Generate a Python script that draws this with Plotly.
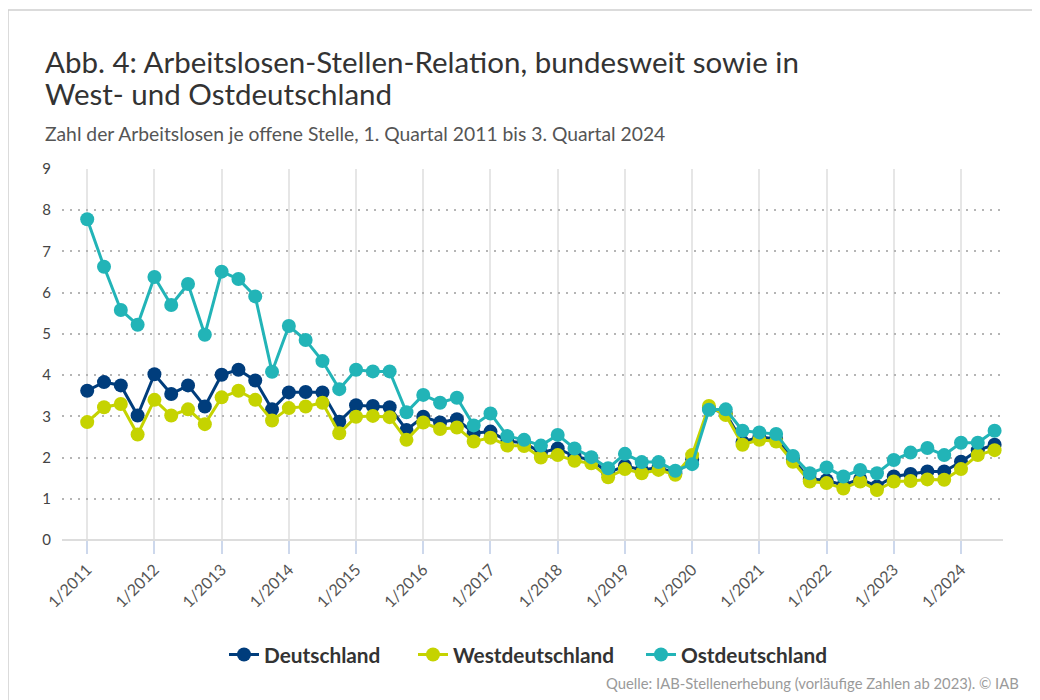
import plotly.graph_objects as go

years = list(range(2011, 2025))
quarters = [f"{q}/{y}" for y in years for q in range(1, 5)][:55]
tick_labels = [f"1/{y}" for y in years]

deutschland = [3.62, 3.83, 3.75, 3.02,
               4.02, 3.54, 3.75, 3.24,
               4.01, 4.13, 3.87, 3.17,
               3.58, 3.59, 3.58, 2.87,
               3.27, 3.25, 3.22, 2.67,
               2.99, 2.85, 2.93, 2.59,
               2.63, 2.40, 2.36, 2.12,
               2.22, 2.03, 1.94, 1.63,
               1.80, 1.70, 1.76, 1.62,
               1.95, 3.20, 3.07, 2.38,
               2.50, 2.45, 1.95, 1.48,
               1.45, 1.33, 1.48, 1.30,
               1.54, 1.60, 1.66, 1.66,
               1.90, 2.18, 2.31]

westdeutschland = [2.86, 3.22, 3.30, 2.56,
                   3.40, 3.02, 3.17, 2.81,
                   3.46, 3.62, 3.40, 2.90,
                   3.20, 3.24, 3.33, 2.59,
                   2.99, 3.01, 2.98, 2.43,
                   2.85, 2.69, 2.73, 2.39,
                   2.48, 2.29, 2.28, 2.00,
                   2.06, 1.92, 1.86, 1.52,
                   1.72, 1.62, 1.70, 1.58,
                   2.06, 3.25, 3.03, 2.31,
                   2.43, 2.39, 1.90, 1.42,
                   1.38, 1.25, 1.42, 1.21,
                   1.42, 1.43, 1.47, 1.46,
                   1.72, 2.06, 2.18]

ostdeutschland = [7.78, 6.63, 5.58, 5.22,
                  6.38, 5.70, 6.21, 4.98,
                  6.51, 6.33, 5.91, 4.08,
                  5.19, 4.85, 4.34, 3.66,
                  4.13, 4.09, 4.09, 3.10,
                  3.52, 3.33, 3.45, 2.78,
                  3.07, 2.52, 2.43, 2.29,
                  2.55, 2.22, 2.01, 1.74,
                  2.09, 1.89, 1.89, 1.68,
                  1.84, 3.16, 3.17, 2.65,
                  2.61, 2.57, 2.04, 1.62,
                  1.76, 1.54, 1.70, 1.62,
                  1.94, 2.12, 2.23, 2.06,
                  2.36, 2.36, 2.65]

series = [("Deutschland", deutschland, "#003D7C", "legend"),
          ("Westdeutschland", westdeutschland, "#C5D300", "legend2"),
          ("Ostdeutschland", ostdeutschland, "#22B4B7", "legend3")]

FONT = "Lato"
x_idx = list(range(len(quarters)))

fig = go.Figure()
for name, vals, col, leg in series:
    fig.add_trace(go.Scatter(
        x=x_idx, y=vals, name=name, mode="lines+markers",
        line=dict(color=col, width=3),
        marker=dict(color=col, size=14),
        customdata=quarters, legend=leg,
        hovertemplate="%{customdata}: %{y}<extra>" + name + "</extra>",
        cliponaxis=False,
    ))

# page body has an 8px offset; work in screen coordinates and convert
OFF = 8
W, H = 1040 - OFF, 700 - OFF
SL, SR, ST, SB = 62, 1003, 169, 540   # plot area in screen px
L, R, T, B = SL - OFF, W - (SR - OFF), ST - OFF, H - (SB - OFF)
pw, ph = W - L - R, H - T - B

def px(xs):
    return (xs - OFF - L) / pw

def py(ys):
    return (H - B - (ys - OFF)) / ph

leg_common = dict(orientation="h", yanchor="middle", xanchor="left",
                  font=dict(family=FONT, size=20.8, color="#333", weight="bold"),
                  bgcolor="rgba(0,0,0,0)", itemwidth=30)

fig.update_layout(
    width=W, height=H,
    margin=dict(l=L, r=R, t=T, b=B),
    paper_bgcolor="white", plot_bgcolor="white",
    font=dict(family=FONT, color="#444"),
    showlegend=True,
    legend=dict(x=px(224), y=py(655), **leg_common),
    legend2=dict(x=px(413), y=py(655), **leg_common),
    legend3=dict(x=px(641), y=py(655), **leg_common),
    xaxis=dict(range=[-1.5, 54.5], tickmode="array",
               tickvals=[i * 4 for i in range(len(tick_labels))], ticktext=tick_labels,
               tickangle=-45, tickfont=dict(size=16, color="#555"),
               showgrid=True, gridcolor="#e6e6e6", gridwidth=2,
               ticks="outside", ticklen=13, tickcolor="#cdd8ec", tickwidth=2,
               showline=False, zeroline=False),
    yaxis=dict(range=[0, 9], dtick=1, tickfont=dict(size=15, color="#444"),
               showgrid=True, gridcolor="#b5b5b5", griddash="2px,6px", gridwidth=1.5,
               zeroline=True, zerolinecolor="#dddddd", zerolinewidth=2,
               ticklabelstandoff=10, showline=False),
    shapes=[dict(type="rect", xref="paper", yref="paper",
                 x0=px(8), x1=px(1060), y0=py(720), y1=py(10),
                 line=dict(color="#d0d0d0", width=1.5), layer="below")],
    annotations=[
        dict(text="Abb. 4: Arbeitslosen-Stellen-Relation, bundesweit sowie in",
             xref="paper", yref="paper", x=px(43), y=py(61), xanchor="left", yanchor="middle",
             align="left", showarrow=False, font=dict(family=FONT, size=29.5, color="#333")),
        dict(text="West- und Ostdeutschland",
             xref="paper", yref="paper", x=px(43), y=py(94), xanchor="left", yanchor="middle",
             align="left", showarrow=False, font=dict(family=FONT, size=29.5, color="#333")),
        dict(text="Zahl der Arbeitslosen je offene Stelle, 1. Quartal 2011 bis 3. Quartal 2024",
             xref="paper", yref="paper", x=px(43), y=py(133), xanchor="left", yanchor="middle",
             showarrow=False, font=dict(family=FONT, size=19.3, color="#555")),
        dict(text="Quelle: IAB-Stellenerhebung (vorläufige Zahlen ab 2023). © IAB",
             xref="paper", yref="paper", x=px(1021), y=py(683), xanchor="right", yanchor="middle",
             showarrow=False, font=dict(family=FONT, size=14.8, color="#9a9a9a")),
    ],
)

fig.write_html("out.html")
